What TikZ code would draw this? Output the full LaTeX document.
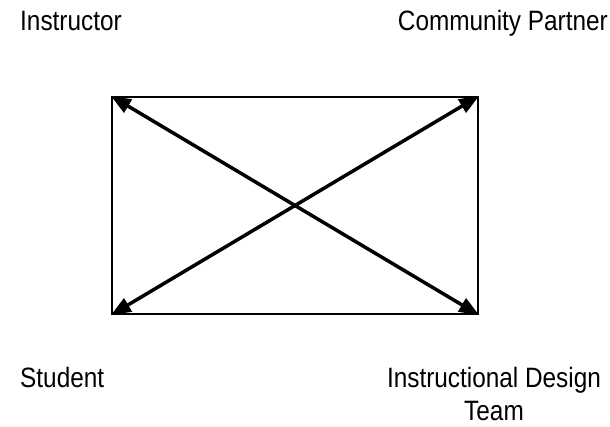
\documentclass[tikz,border=0pt]{standalone}
\usepackage{fontspec}
\newfontfamily\lblfont[FakeStretch=0.87]{Liberation Sans}
\usetikzlibrary{arrows.meta}

\begin{document}
\begin{tikzpicture}[x=1pt,y=-1pt,>={Triangle[length=20pt,width=15pt]},
 t/.style={font=\lblfont\fontsize{28}{33}\selectfont,inner sep=0pt,align=center},
 a/.style={<->,line width=3.5pt},
 bx/.style={draw,line width=2.2pt,minimum width=366pt,minimum height=217pt,inner sep=0pt}]
 \useasboundingbox (0,0) rectangle (610,427);
 \node[bx] (box) at (295,205.5) {};
 \node[t,anchor=base west] (instr) at (20,31) {Instructor};
 \node[t,anchor=base east] (partner) at (608,31) {Community Partner};
 \node[t,anchor=base west] (student) at (20,387) {Student};
 \node[t,anchor=base] (idt) at (494,420) {Instructional Design\\Team};
 \draw[a] (box.north west)--(box.south east);
 \draw[a] (box.south west)--(box.north east);
\end{tikzpicture}
\end{document}
